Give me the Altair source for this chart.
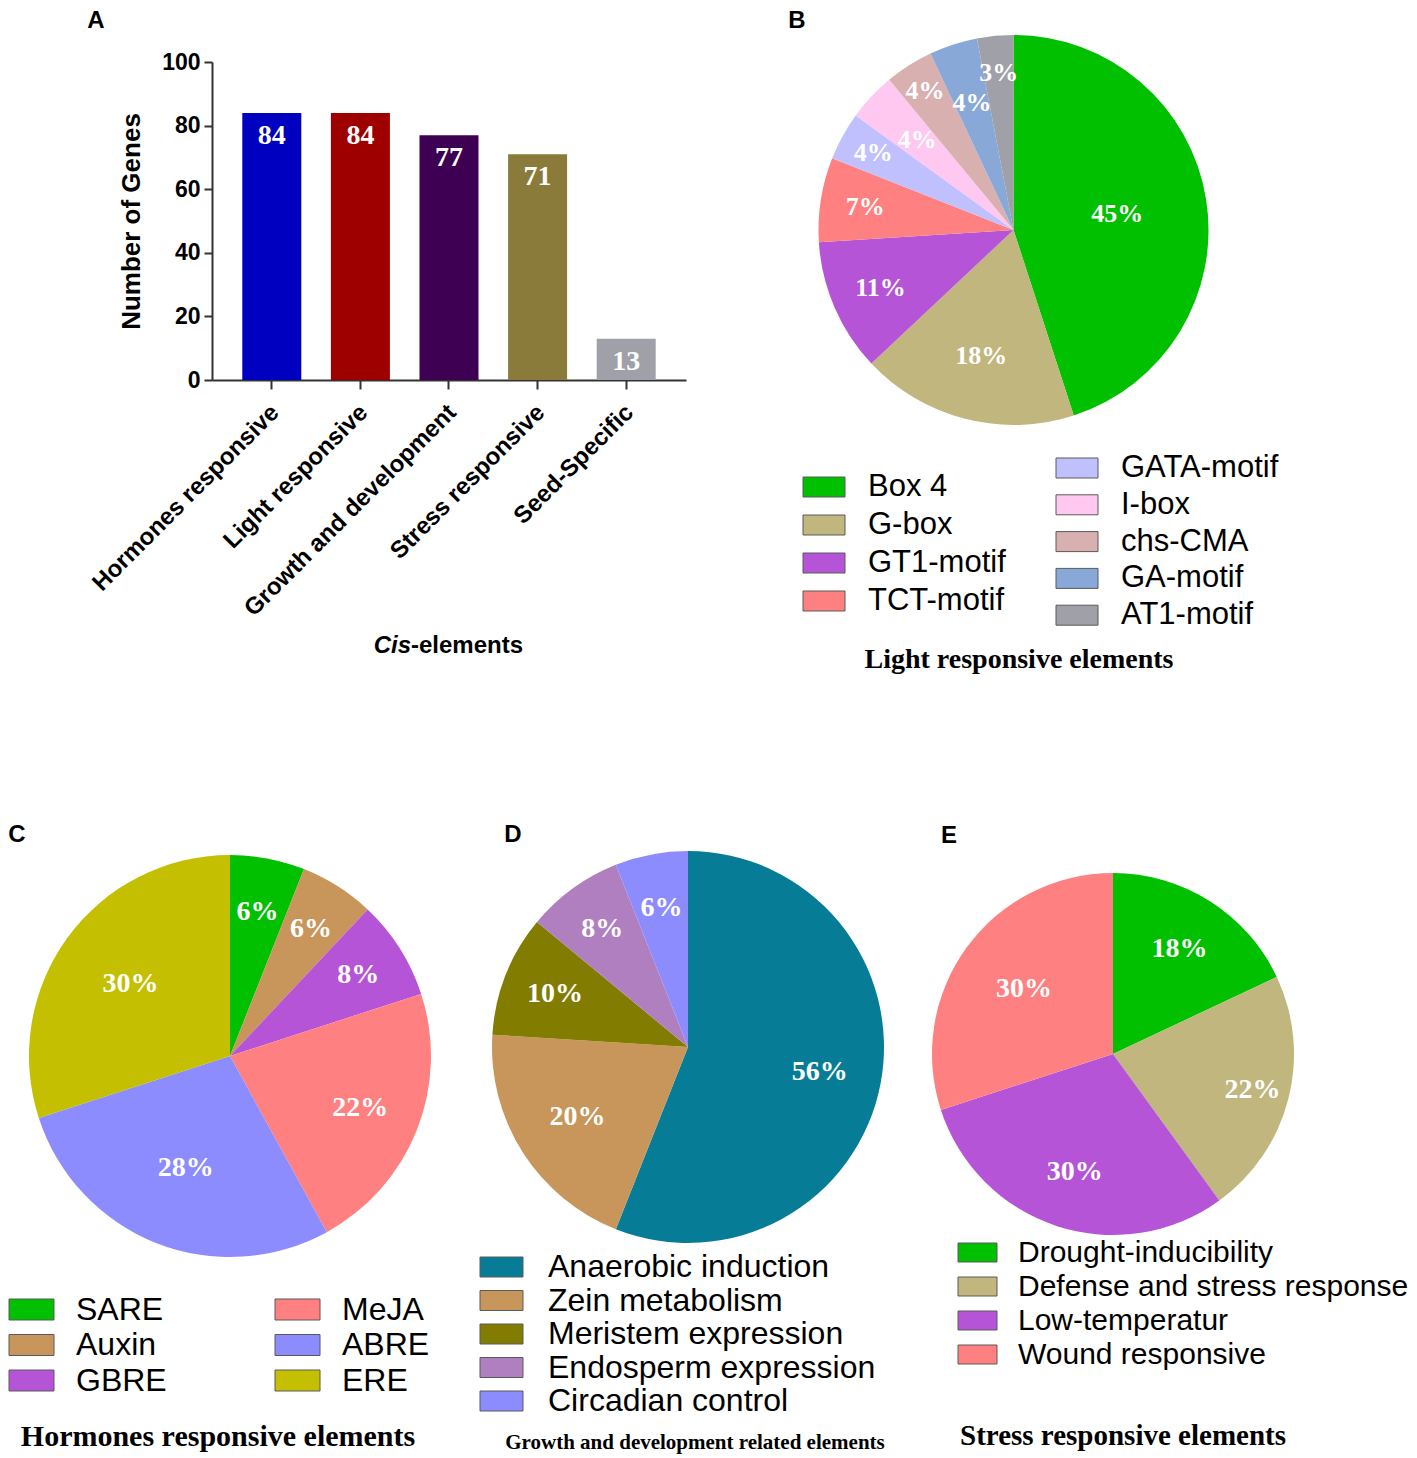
import altair as alt
import pandas as pd

SANS = "Liberation Sans"
SERIF = "Liberation Serif"

# ---------------- data ----------------
A_CATS = ["Hormones responsive", "Light responsive", "Growth and development",
          "Stress responsive", "Seed-Specific"]
A_VALUES = [84, 84, 77, 71, 13]
A_COLORS = ["#0000c0", "#9e0000", "#3d0052", "#8b7b3a", "#a0a0a8"]

B_CATS = ["Box 4", "G-box", "GT1-motif", "TCT-motif", "GATA-motif", "I-box",
          "chs-CMA", "GA-motif", "AT1-motif"]
B_VALUES = [45, 18, 11, 7, 4, 4, 4, 4, 3]
B_COLORS = ["#00c000", "#c0b67e", "#b654d8", "#ff8080", "#c0c0ff", "#ffc8f0",
            "#d8b0b0", "#88a8d8", "#a0a0a8"]

C_CATS = ["SARE", "Auxin", "GBRE", "MeJA", "ABRE", "ERE"]
C_VALUES = [6, 6, 8, 22, 28, 30]
C_COLORS = ["#00c000", "#c8955a", "#b654d8", "#ff8080", "#8c8cff", "#c4bf00"]

D_CATS = ["Anaerobic induction", "Zein metabolism", "Meristem expression",
          "Endosperm expression", "Circadian control"]
D_VALUES = [56, 20, 10, 8, 6]
D_COLORS = ["#077c96", "#c8955a", "#827d00", "#b07fc0", "#8c8cff"]

E_CATS = ["Drought-inducibility", "Defense and stress response",
          "Low-temperatur", "Wound responsive"]
E_VALUES = [18, 22, 30, 30]
E_COLORS = ["#00c000", "#c0b67e", "#b654d8", "#ff8080"]

# label radii (layout only)
B_LABEL_R = [105, 130, 145, 150, 160, 132, 165, 134, 158]
C_LABEL_R = [147, 151, 152, 140, 120, 123]
D_LABEL_R = [134, 131, 143, 146, 141]
E_LABEL_R = [124, 144, 124, 110]

W, H = 1401, 1447
SYM = 20  # nominal legend symbol size (px); drawn shape is scaled by its path


def text_layer(t, x, y, size, font=SANS, weight="bold", style="normal",
               align="center", baseline="middle", color="black"):
    return alt.Chart(pd.DataFrame({"t": [t]})).mark_text(
        font=font, fontSize=size, fontWeight=weight, fontStyle=style,
        align=align, baseline=baseline, color=color
    ).encode(text="t:N", x=alt.value(x), y=alt.value(y))


def rect_symbol(w, h):
    hw = w / SYM
    hh = h / SYM
    return f"M{-hw:.4f},{-hh:.4f}H{hw:.4f}V{hh:.4f}H{-hw:.4f}Z"


def make_legend(x, y, w, h, row_pad, label_offset, size, columns=None, col_pad=None):
    # entry slot width equals the font size (symbol nominal size is smaller)
    so = w / 2 - size / 2
    lo = w / 2 + label_offset - size / 2
    kw = dict(orient="none", legendX=x, legendY=y, title=None,
              symbolType=rect_symbol(w, h), symbolSize=SYM * SYM,
              symbolOffset=so,
              symbolStrokeColor="#5a5a5a", symbolStrokeWidth=1, symbolOpacity=1,
              labelFont=SANS, labelFontSize=size, labelColor="black",
              labelLimit=800, labelOffset=lo, rowPadding=row_pad,
              padding=0, direction="vertical")
    if columns:
        kw.update(columns=columns, columnPadding=col_pad, gridAlign="each")
    return alt.Legend(**kw)


def pie(cats, vals, colors, label_r, cx, cy, r, font_size, legends):
    df = pd.DataFrame({"cat": cats, "value": vals, "idx": list(range(len(cats))),
                       "lr": label_r, "label": [f"{v}%" for v in vals]})
    base = alt.Chart(df).transform_stack(
        stack="value", groupby=[], as_=["s", "e"],
        sort=[alt.SortField("idx", order="ascending")])
    tscale = alt.Scale(domain=[0, 100])
    cmap = dict(zip(cats, colors))
    layers = []
    for lo, hi, dom, leg in legends:
        layers.append(
            base.transform_filter(f"datum.idx >= {lo} && datum.idx < {hi}")
            .mark_arc(radius=r)
            .encode(theta=alt.Theta("s:Q", scale=tscale, stack=None),
                    theta2="e:Q",
                    color=alt.Color("cat:N", scale=alt.Scale(domain=dom, range=[cmap[c] for c in dom]),
                                    legend=leg),
                    x=alt.value(cx), y=alt.value(cy)))
    layers.append(
        base.transform_calculate(mid="(datum.s + datum.e) / 2")
        .mark_text(font=SERIF, fontWeight="bold", fontSize=font_size, color="white")
        .encode(theta=alt.Theta("mid:Q", scale=tscale, stack=None),
                radius=alt.Radius("lr:Q", scale=None),
                text="label:N", x=alt.value(cx), y=alt.value(cy)))
    return layers


layers = []

# ---------------- Panel A: bar chart ----------------
bar_df = pd.DataFrame({"cat": A_CATS, "value": A_VALUES})
x_enc = alt.X("cat:N", sort=A_CATS, title=None,
              scale=alt.Scale(range=[204, 678], paddingInner=0.334, paddingOuter=0.342),
              axis=alt.Axis(offset=-(H - 372), labelAngle=-45, labelAlign="right",
                            labelBaseline="top", labelFont=SANS, labelFontWeight="bold",
                            labelFontSize=24, labelColor="black", labelPadding=11,
                            labelOffset=-5,
                            labelLimit=500, labelOverlap=False, tickSize=9, tickWidth=2,
                            tickColor="#333333", domainColor="#333333", domainWidth=2,
                            grid=False))
y_enc = alt.Y("value:Q", title="Number of Genes",
              scale=alt.Scale(domain=[0, 100], range=[372, 54], nice=False),
              axis=alt.Axis(offset=-204, values=[0, 20, 40, 60, 80, 100], grid=False,
                            domainColor="#333333", domainWidth=2, tickColor="#333333",
                            tickWidth=2, tickSize=8, labelFont=SANS, labelFontWeight="bold",
                            labelFontSize=23, labelColor="black", labelPadding=4,
                            titleFont=SANS, titleFontWeight="bold", titleFontSize=26,
                            titleColor="black", titlePadding=17))
layers.append(alt.Chart(bar_df).mark_bar().encode(
    x=x_enc, y=y_enc,
    color=alt.Color("cat:N", scale=alt.Scale(domain=A_CATS, range=A_COLORS), legend=None)))
layers.append(alt.Chart(bar_df).mark_text(
    font=SERIF, fontWeight="bold", fontSize=28, color="white", baseline="top", dy=9
).encode(x=x_enc, y=y_enc, text="value:Q"))
layers.append(text_layer("Cis", 403, 638, 24, style="italic", align="right"))
layers.append(text_layer("-elements", 403, 638, 24, align="left"))

# ---------------- Panel B ----------------
layers += pie(B_CATS, B_VALUES, B_COLORS, B_LABEL_R, 1005.5, 222, 195, 26, [
    (0, 4, B_CATS[:4], make_legend(795, 463.5, 42, 20, 6.0, 23, 31)),
    (4, 9, B_CATS[4:], make_legend(1048, 444.5, 42, 20, 4.8, 23, 31)),
])
layers.append(text_layer("Light responsive elements", 1011, 660, 28, font=SERIF,
                         baseline="alphabetic"))

# ---------------- Panel C ----------------
layers += pie(C_CATS, C_VALUES, C_COLORS, C_LABEL_R, 222, 1048, 201, 28, [
    (0, 6, C_CATS, make_legend(1, 1285.5, 45, 21, 3.5, 22, 32, columns=2, col_pad=106)),
])
layers.append(text_layer("Hormones responsive elements", 210, 1438, 30, font=SERIF,
                         baseline="alphabetic"))

# ---------------- Panel D ----------------
layers += pie(D_CATS, D_VALUES, D_COLORS, D_LABEL_R, 680, 1039, 196, 28, [
    (0, 5, D_CATS, make_legend(472, 1243, 43, 20, 1.5, 25, 32)),
])
layers.append(text_layer("Growth and development related elements", 687, 1441, 21,
                         font=SERIF, baseline="alphabetic"))

# ---------------- Panel E ----------------
layers += pie(E_CATS, E_VALUES, E_COLORS, E_LABEL_R, 1105, 1046, 181, 28, [
    (0, 4, E_CATS, make_legend(950, 1229.5, 39, 19, 4, 21, 30)),
])
layers.append(text_layer("Stress responsive elements", 1115, 1437, 29, font=SERIF,
                         baseline="alphabetic"))

# ---------------- panel letters ----------------
for letter, lx, ly in [("A", 88, 20), ("B", 789, 20), ("C", 9, 834), ("D", 505, 834), ("E", 941, 835)]:
    layers.append(text_layer(letter, lx, ly, 24, baseline="alphabetic"))

chart = alt.layer(*layers).properties(
    width=W, height=H, padding=0, autosize=alt.AutoSizeParams(type="none")
).resolve_scale(color="independent").configure_view(stroke="transparent")

chart.save("out.html", embed_options={"renderer": "svg", "actions": False})
